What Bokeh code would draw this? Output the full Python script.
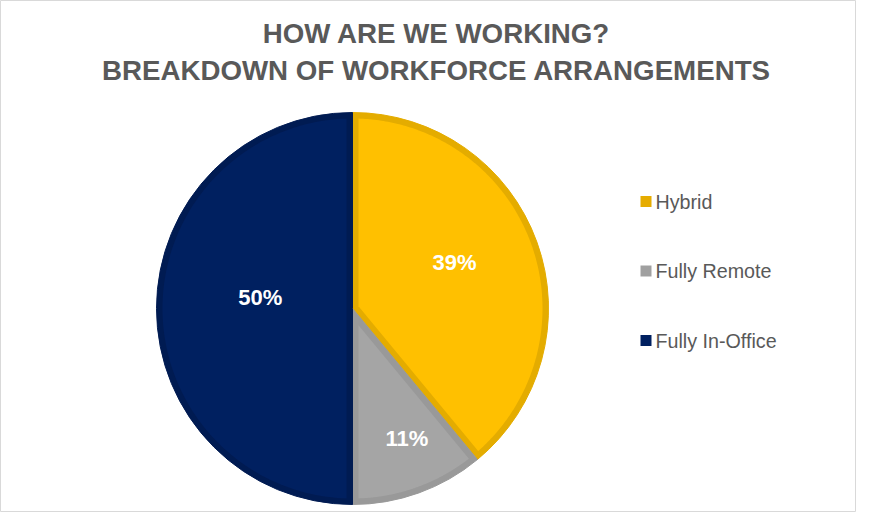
import numpy as np
from bokeh.plotting import figure
from bokeh.models import Range1d, ColumnDataSource
from bokeh.core.properties import value
from bokeh.embed import file_html
from bokeh.resources import INLINE

# ---- data ----
title_lines = ["HOW ARE WE WORKING?", "BREAKDOWN OF WORKFORCE ARRANGEMENTS"]
categories = ["Hybrid", "Fully Remote", "Fully In-Office"]
shares = [39, 11, 50]
fill_colors = ["#FFC000", "#A5A5A5", "#002060"]
border_colors = ["#E4AC00", "#999999", "#001B52"]
legend_colors = ["#E6AC00", "#A0A0A0", "#002060"]
label_radius_frac = [0.58, 0.70, 0.47]
label_nudge_x = [-5, 8, 0]
label_nudge_y = [7, -1, 11]

W, H = 856, 512
cx, cy, R = 352.0, 204.0, 196.0
bw = 6.0

p = figure(width=W, height=H, x_range=Range1d(0, W), y_range=Range1d(0, H),
           output_backend="svg", toolbar_location=None, min_border=0)
p.axis.visible = False
p.grid.visible = False
p.outline_line_color = "#D9D9D9"
p.outline_line_width = 1
p.background_fill_color = "white"
p.border_fill_color = "white"

vals = np.array(shares, dtype=float)
frac = vals / vals.sum()
cum = np.concatenate([[0.0], np.cumsum(frac)])
start = np.pi / 2 - 2 * np.pi * cum[:-1]
end = np.pi / 2 - 2 * np.pi * cum[1:]

# outer wedges (border colour)
src = ColumnDataSource(dict(x=[cx] * len(shares), y=[cy] * len(shares), start=list(start), end=list(end),
                            color=border_colors))
p.wedge(x="x", y="y", radius=R, start_angle="start", end_angle="end", direction="clock",
        fill_color="color", line_color="color", line_width=1, source=src)

# inner inset fills
xs, ys = [], []
ri = R - bw
delta = np.arcsin(bw / ri)
for a0, a1 in zip(start, end):
    half = (a0 - a1) / 2
    mid = (a0 + a1) / 2
    d = bw / np.sin(half)
    ax, ay = cx + d * np.cos(mid), cy + d * np.sin(mid)
    t = np.linspace(a0 - delta, a1 + delta, 200)
    xs.append([ax] + list(cx + ri * np.cos(t)))
    ys.append([ay] + list(cy + ri * np.sin(t)))
p.patches(xs=xs, ys=ys, fill_color=fill_colors, line_color=None)

# percentage labels
mids = (start + end) / 2
lx = cx + np.array(label_radius_frac) * R * np.cos(mids) + np.array(label_nudge_x)
ly = cy + np.array(label_radius_frac) * R * np.sin(mids) + np.array(label_nudge_y)
p.text(x=list(lx), y=list(ly), text=[f"{int(v)}%" for v in shares],
       text_font=value("Liberation Sans"), text_font_style="bold", text_font_size="22px",
       text_color="white", text_align="center", text_baseline="middle")

# title
p.text(x=[436, 436], y=[479.5, 442], text=title_lines,
       text_font=value("Liberation Sans"), text_font_style="bold", text_font_size="27.7px",
       text_color="#595959", text_align="center", text_baseline="middle")

# legend
leg_y = [311 - 69.5 * i for i in range(len(categories))]
p.scatter(x=[645.5] * len(categories), y=leg_y, marker="square", size=11,
          fill_color=legend_colors, line_color=None)
p.text(x=[655] * len(categories), y=leg_y, text=categories,
       text_font=value("Liberation Sans"), text_font_size="19.7px",
       text_color="#595959", text_align="left", text_baseline="middle")

open("out.html", "w").write(file_html(p, INLINE))
